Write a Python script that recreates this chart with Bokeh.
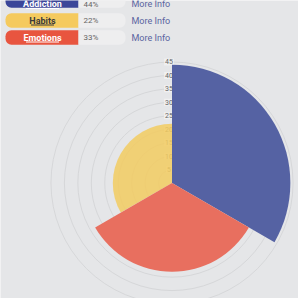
from bokeh.plotting import figure
from bokeh.models import Range1d, BoxAnnotation
from bokeh.core.properties import value
from bokeh.embed import file_html
from bokeh.resources import INLINE
import math

# ---- data ----
categories = ["Addiction", "Habits", "Emotions"]
values = [44, 22, 33]
percents = ["44%", "22%", "33%"]
angular_order = [0, 2, 1]          # clockwise slot from top for each category
legend_colors = ["#3b4699", "#f5ca5e", "#e8553f"]
wedge_colors = ["#5562a3", "#f2cb60", "#e86f5f"]
wedge_alpha = [1.0, 0.85, 1.0]
label_colors = ["#ffffff", "#3a3a3a", "#ffffff"]
ticks = [5, 10, 15, 20, 25, 30, 35, 40, 45]
tick_labels = ["5", "10", "15", "20", "25", "30", "35", "40", "45"]

# ---- layout ----
W = H = 298
k = 2.69           # pixels per value unit
cx, cy = 171.5, 182.5
BG = "#e5e6e8"

def X(px):
    return (px - cx) / k

def Y(py):
    return (cy - py) / k

p = figure(width=W, height=H, output_backend="svg", toolbar_location=None,
           x_range=Range1d(X(0), X(W)), y_range=Range1d(Y(H), Y(0)),
           min_border=0, background_fill_color=BG, border_fill_color=BG,
           outline_line_color=None)
p.axis.visible = False
p.grid.visible = False

# grid circles
p.circle(x=[0] * len(ticks), y=[0] * len(ticks), radius=ticks,
         fill_color=None, line_color="#d6d7d9", line_width=1)

# tick labels
p.text(x=[0] * len(ticks), y=ticks, text=tick_labels, x_offset=-3,
       text_align="center", text_baseline="middle", text_font_size="7px",
       text_color="#666666", text_font=value("Roboto"),
       background_fill_color="#f2f2f3", background_fill_alpha=0.8, padding=1)

# wedges: each category gets an equal angle, clockwise from top
n = len(values)
span = 2 * math.pi / n
starts, ends = [], []
for i in range(n):
    s = angular_order[i]
    a0 = math.pi / 2 - span * s
    a1 = math.pi / 2 - span * (s + 1)
    starts.append(a1)
    ends.append(a0)
p.wedge(x=[0] * n, y=[0] * n, radius=values, start_angle=starts, end_angle=ends,
        fill_color=wedge_colors, fill_alpha=wedge_alpha, line_color=None)

# legend table
row_c = [0, 20, 37]
text_c = [3.5, 20, 37]
row_h = 14.5
for i, cat in enumerate(categories):
    top, bot = row_c[i] - row_h / 2, row_c[i] + row_h / 2
    p.add_layout(BoxAnnotation(left=X(5), right=X(78), top=Y(top), bottom=Y(bot),
                               fill_color=legend_colors[i], fill_alpha=1, line_color=None,
                               border_radius=(6, 0, 0, 6), level="underlay"))
    p.add_layout(BoxAnnotation(left=X(78), right=X(125), top=Y(top), bottom=Y(bot),
                               fill_color="#eeeeef", fill_alpha=1, line_color=None,
                               border_radius=(0, 6, 6, 0), level="underlay"))

p.text(x=[X(42)] * n, y=[Y(c) for c in text_c], text=categories,
       text_align="center", text_baseline="middle", text_font_size="9px",
       text_font_style="bold", text_color=label_colors, text_font=value("Roboto"))
uw = [33, 23, 33]
p.segment(x0=[X(42 - w / 2) for w in uw], x1=[X(42 + w / 2) for w in uw],
          y0=[Y(c + 4.5) for c in text_c], y1=[Y(c + 4.5) for c in text_c],
          line_color=label_colors, line_width=1)
p.text(x=[X(83)] * n, y=[Y(c) for c in text_c], text=percents,
       text_align="left", text_baseline="middle", text_font_size="8px",
       text_color="#666666", text_font=value("Roboto"))
p.text(x=[X(131)] * n, y=[Y(c) for c in text_c], text=["More Info"] * n,
       text_align="left", text_baseline="middle", text_font_size="9px",
       text_color="#5a64a0", text_font=value("Roboto"))

open("out.html", "w").write(file_html(p, INLINE))
